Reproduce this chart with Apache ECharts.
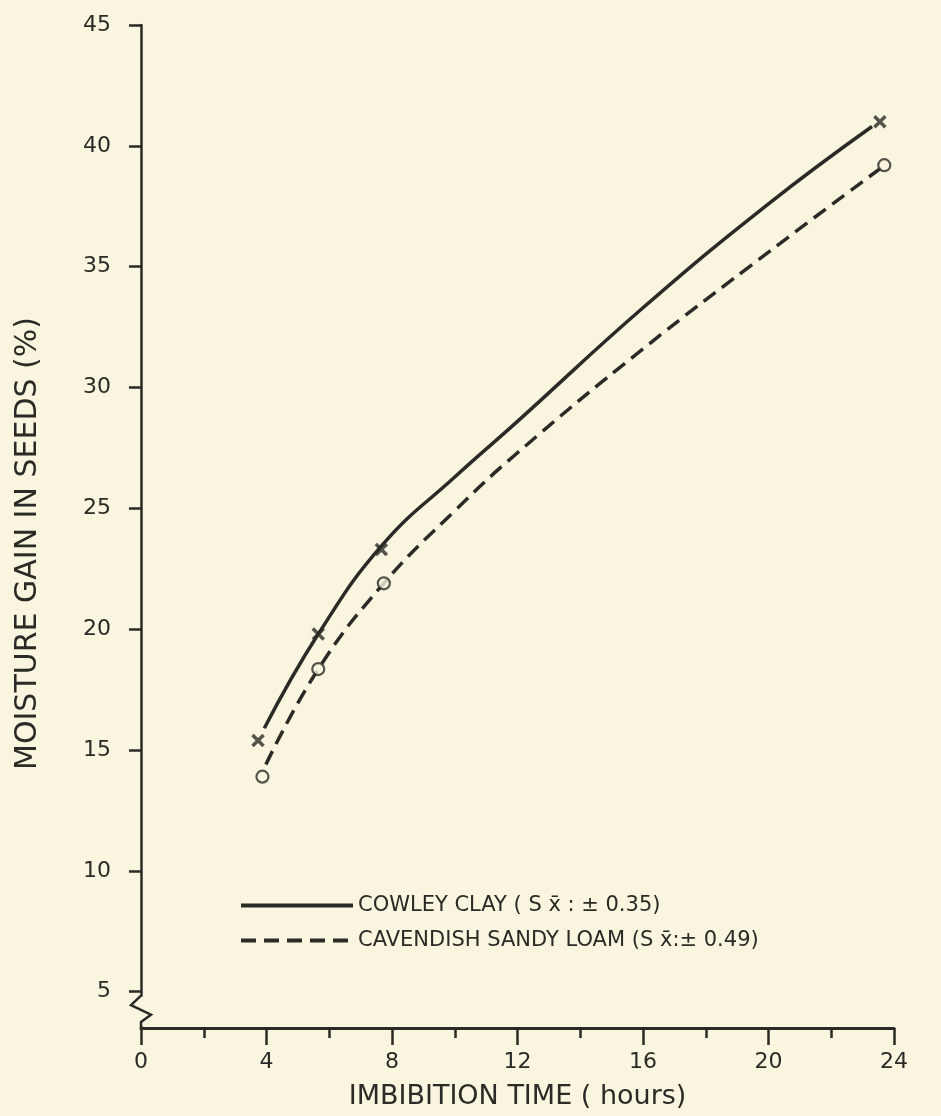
<!DOCTYPE html>
<html>
<head>
<meta charset="utf-8">
<script src="https://cdn.jsdelivr.net/npm/echarts@6/dist/echarts.min.js"></script>
<style>
html,body{margin:0;padding:0;background:#f9f5df;}
#chart{width:941px;height:1116px;}
</style>
</head>
<body>
<div id="chart"></div>
<script>
// ---- data ----
const seriesNames = ['COWLEY CLAY ( S x\u0304 : \u00b1 0.35)', 'CAVENDISH SANDY LOAM (S x\u0304:\u00b1 0.49)'];
// observed points
const cowleyTime = [3.73, 5.65, 7.66, 23.55];
const cowleyGain = [15.4, 19.8, 23.3, 41.0];
const cavTime = [3.87, 5.65, 7.74, 23.69];
const cavGain = [13.9, 18.35, 21.9, 39.2];
// fitted curves (as drawn)
const cowleyCurveTime = [3.93, 5.65, 7.7, 10, 12, 16, 20, 23.3];
const cowleyCurveGain = [15.9, 19.8, 23.5, 26.3, 28.6, 33.3, 37.6, 40.8];
const cavCurveTime = [3.98, 5.65, 7.74, 10, 12, 16, 20, 23.6];
const cavCurveGain = [14.4, 18.35, 21.9, 24.9, 27.3, 31.6, 35.6, 39.1];
// tick values
const yTicks = [5, 10, 15, 20, 25, 30, 35, 40, 45];
const xMajor = [0, 4, 8, 12, 16, 20, 24];
const xMinor = [0, 2, 4, 6, 8, 10, 12, 14, 16, 18, 20, 22, 24];

const bg = '#f9f5df';
const ink = '#2a2a26';
const font = 'DejaVu Sans';

const zip = (a, b) => a.map((v, i) => [v, b[i]]);

const chart = echarts.init(document.getElementById('chart'), null, {renderer: 'canvas'});

const option = {
  backgroundColor: bg,
  animation: false,
  textStyle: {fontFamily: font, color: ink},
  grid: {left: 141, right: 47, top: 25, bottom: 88, containLabel: false},
  legend: {
    left: 234, top: 890, orient: 'vertical', itemWidth: 112, itemHeight: 14, itemGap: 14,
    textStyle: {fontFamily: font, fontSize: 21, color: ink},
    itemStyle: {opacity: 0},
    lineStyle: {width: 4},
    data: [seriesNames[0], seriesNames[1]]
  },
  xAxis: [{
    type: 'value', min: 0, max: 24, interval: 4,
    name: 'IMBIBITION TIME ( hours)', nameLocation: 'middle', nameGap: 55,
    nameTextStyle: {fontFamily: font, fontSize: 27, color: ink},
    axisLine: {show: true, onZero: false, lineStyle: {color: ink, width: 3}},
    axisTick: {show: true, length: 17, lineStyle: {color: ink, width: 2.5}, customValues: xMajor},
    axisLabel: {fontSize: 22, color: ink, margin: 23, fontFamily: font, customValues: xMajor},
    splitLine: {show: false}
  }, {
    type: 'value', min: 0, max: 24, interval: 2, position: 'bottom',
    axisLine: {show: false, onZero: false},
    axisTick: {show: true, length: 10, lineStyle: {color: ink, width: 2.5}, customValues: xMinor},
    axisLabel: {show: false},
    splitLine: {show: false}
  }],
  yAxis: {
    type: 'value', min: 3.5, max: 45,
    name: 'MOISTURE GAIN IN SEEDS (%)', nameLocation: 'middle', nameGap: 98,
    nameTextStyle: {fontFamily: font, fontSize: 30, color: ink, padding: [0, 34, 0, 0]},
    axisLine: {show: true, onZero: false, lineStyle: {color: ink, width: 2.5}},
    axisTick: {show: true, length: 12, lineStyle: {color: ink, width: 2.5}, customValues: yTicks},
    axisLabel: {fontSize: 22, color: ink, margin: 30, fontFamily: font, customValues: yTicks},
    splitLine: {show: false}
  },
  series: [
    {
      name: seriesNames[0], type: 'line', xAxisIndex: 0, data: zip(cowleyCurveTime, cowleyCurveGain),
      smooth: 0.45, symbol: 'none', lineStyle: {color: ink, width: 3.5}, itemStyle: {color: ink}, z: 2
    },
    {
      name: seriesNames[1], type: 'line', xAxisIndex: 0, data: zip(cavCurveTime, cavCurveGain),
      smooth: 0.45, symbol: 'none', lineStyle: {color: ink, width: 3.5, type: [15, 8]}, itemStyle: {color: ink}, z: 2
    },
    {
      name: 'cowley-points', type: 'scatter', xAxisIndex: 0, data: zip(cowleyTime, cowleyGain),
      symbol: 'path://M0,0L10,10M10,0L0,10', symbolSize: 11,
      itemStyle: {color: 'rgba(0,0,0,0)', borderColor: ink, borderWidth: 3.5}, z: 3
    },
    {
      name: 'cavendish-points', type: 'scatter', xAxisIndex: 0, data: zip(cavTime, cavGain),
      symbol: 'circle', symbolSize: 12,
      itemStyle: {color: bg, borderColor: ink, borderWidth: 2.2}, z: 3
    }
  ]
};
chart.setOption(option);

// axis-break zigzag on the y axis, positioned through the axis scales
function drawBreak() {
  const p = v => chart.convertToPixel({xAxisIndex: 0, yAxisIndex: 0}, [0, v]);
  const a = p(4.8), b = p(4.45), c = p(4.05), d = p(3.75), e = p(3.5);
  chart.setOption({
    graphic: [
      {type: 'rect', shape: {x: a[0] - 4, y: a[1], width: 8, height: e[1] - a[1] - 2}, style: {fill: bg}, z: 100},
      {type: 'polyline', shape: {points: [[a[0], a[1] - 1], [a[0] - 10, b[1]], [a[0] + 10, c[1]], [a[0], d[1]], [e[0], e[1]]]},
       style: {stroke: ink, lineWidth: 2.5, fill: null}, z: 101}
    ]
  });
}
drawBreak();
</script>
</body>
</html>
